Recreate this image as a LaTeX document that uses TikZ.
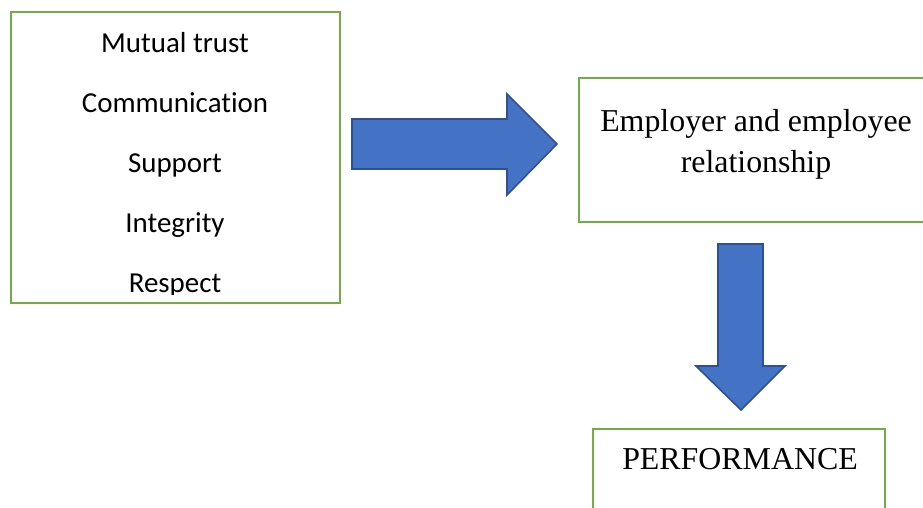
\documentclass[tikz,border=0pt]{standalone}
\usepackage{fontspec}
\setmainfont{Liberation Serif}
\newfontfamily\calfont[Ligatures=NoCommon]{Carlito}
\begin{document}
\begin{tikzpicture}[x=0.75pt,y=-0.75pt,
  greenbox/.style={draw=boxgreen,line width=2pt},
  blockarrow/.style={fill=arrowblue,draw=arrowedge,line width=1.2pt,line join=miter},
  listtext/.style={font=\calfont\fontsize{21.7}{26}\selectfont,anchor=base,inner sep=0pt},
  serifbig/.style={font=\fontsize{23.9}{29.5}\selectfont,anchor=base,inner sep=0pt}]
\definecolor{boxgreen}{HTML}{70AD47}
\definecolor{arrowblue}{HTML}{4472C4}
\definecolor{arrowedge}{HTML}{2F528F}
\useasboundingbox (0,0) rectangle (923,507);

% factor box
\draw[greenbox] (11,12) rectangle (340,303);
\node[listtext] (trust) at (175,52) {Mutual trust};
\node[listtext] (comm) at (175,112) {Communication};
\node[listtext] (supp) at (175,172) {Support};
\node[listtext] (integ) at (175,232) {Integrity};
\begin{scope}
  \clip (0,0) rectangle (923,294);
  \node[listtext] (resp) at (175,292) {Respect};
\end{scope}

% relationship box
\draw[greenbox] (579,78) rectangle (926,222);
\node[serifbig] (rel1) at (756,131) {Employer and employee};
\node[serifbig] (rel2) at (756,172) {relationship};

% performance box
\draw[greenbox] (593,429) rectangle (885,512);
\node[serifbig] (perf) at (740,469) {PERFORMANCE};

% block arrow to the right
\coordinate (ra1) at (352,119);
\coordinate (ra2) at (507,119);
\coordinate (ra3) at (507,94);
\coordinate (ra4) at (557,144);
\coordinate (ra5) at (507,195);
\coordinate (ra6) at (507,169);
\coordinate (ra7) at (352,169);
\draw[blockarrow] (ra1) -- (ra2) -- (ra3) -- (ra4) -- (ra5) -- (ra6) -- (ra7) -- cycle;

% block arrow downwards
\coordinate (da1) at (718,244);
\coordinate (da2) at (763,244);
\coordinate (da3) at (763,366);
\coordinate (da4) at (785,366);
\coordinate (da5) at (741,410);
\coordinate (da6) at (696,366);
\coordinate (da7) at (718,366);
\draw[blockarrow] (da1) -- (da2) -- (da3) -- (da4) -- (da5) -- (da6) -- (da7) -- cycle;
\end{tikzpicture}
\end{document}
